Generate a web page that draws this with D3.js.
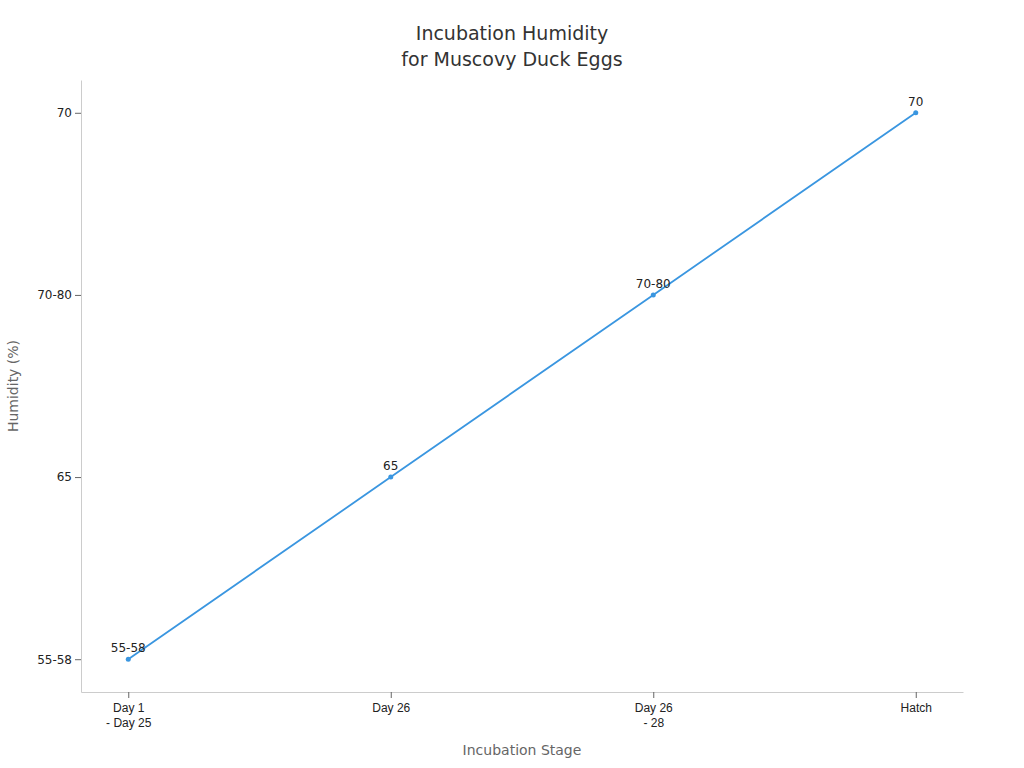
<!DOCTYPE html>
<html>
<head>
<meta charset="utf-8">
<script src="https://cdn.jsdelivr.net/npm/d3@7"></script>
<style>
	body { margin: 0; background: #fff; font-family: "DejaVu Sans", sans-serif; }
</style>
</head>
<body>
<div id="chart"></div>
<script>

// data
const stages = ["Day 1\n- Day 25", "Day 26", "Day 26\n- 28", "Hatch"];
const humidity = ["55-58", "65", "70-80", "70"];
const yLevels = ["55-58", "65", "70-80", "70"];

const width = 1024, height = 768;
const margin = {top: 80, right: 61, bottom: 76, left: 81};

let svg = d3.select("#chart").append("svg")
	.attr("width", width)
	.attr("height", height);

let x = d3.scalePoint()
	.domain(stages)
	.range([margin.left, width - margin.right])
	.padding(0.18);

let y = d3.scalePoint()
	.domain(yLevels)
	.range([height - margin.bottom, margin.top])
	.padding(0.18);

//title
svg.append("text")
	.attr("x", 512).attr("y", 40)
	.attr("text-anchor", "middle")
	.attr("font-size", 19).attr("fill", "#333")
	.text("Incubation Humidity");
svg.append("text")
	.attr("x", 512).attr("y", 66)
	.attr("text-anchor", "middle")
	.attr("font-size", 19).attr("fill", "#333")
	.text("for Muscovy Duck Eggs");

//axes
let xAxis = svg.append("g")
	.attr("transform", "translate(0," + (height - margin.bottom) + ")")
	.call(d3.axisBottom(x).tickSizeOuter(0).tickFormat(""));
let yAxis = svg.append("g")
	.attr("transform", "translate(" + margin.left + ",0)")
	.call(d3.axisLeft(y).tickSizeOuter(0));

[xAxis, yAxis].forEach((a)=>{
	a.select(".domain").attr("stroke", "#ccc");
	a.selectAll(".tick line").attr("stroke", "#666");
	a.selectAll("text").attr("font-size", 12).attr("fill", "#222")
		.attr("font-family", "DejaVu Sans, sans-serif");
});

// multi-line x tick labels
xAxis.selectAll(".tick").each(function(d){
	let t = d3.select(this).append("text")
		.attr("y", 20).attr("text-anchor", "middle")
		.attr("font-size", 12).attr("fill", "#222");
	d.split("\n").forEach((line, i)=>{
		t.append("tspan").attr("x", 0).attr("dy", i ? 15 : 0).text(line);
	});
});

//axis titles
svg.append("text")
	.attr("x", (margin.left + width - margin.right)/2).attr("y", 755)
	.attr("text-anchor", "middle")
	.attr("font-size", 14).attr("fill", "#666")
	.text("Incubation Stage");
svg.append("text")
	.attr("transform", "translate(18," + (margin.top + height - margin.bottom)/2 + ") rotate(-90)")
	.attr("text-anchor", "middle")
	.attr("font-size", 14).attr("fill", "#666")
	.text("Humidity (%)");

//line
let pts = stages.map((s, i)=>({s: s, v: humidity[i]}));
svg.append("path")
	.datum(pts)
	.attr("fill", "none")
	.attr("stroke", "#3a96e0")
	.attr("stroke-width", 1.8)
	.attr("d", d3.line().x((d)=>x(d.s)).y((d)=>y(d.v)));

svg.selectAll(".dot").data(pts).enter().append("circle")
	.attr("cx", (d)=>x(d.s)).attr("cy", (d)=>y(d.v))
	.attr("r", 2.5).attr("fill", "#3a96e0");

svg.selectAll(".lbl").data(pts).enter().append("text")
	.attr("x", (d)=>x(d.s)).attr("y", (d)=>y(d.v) - 7)
	.attr("text-anchor", "middle")
	.attr("font-size", 12).attr("fill", "#222")
	.text((d)=>d.v);

</script>
</body>
</html>
